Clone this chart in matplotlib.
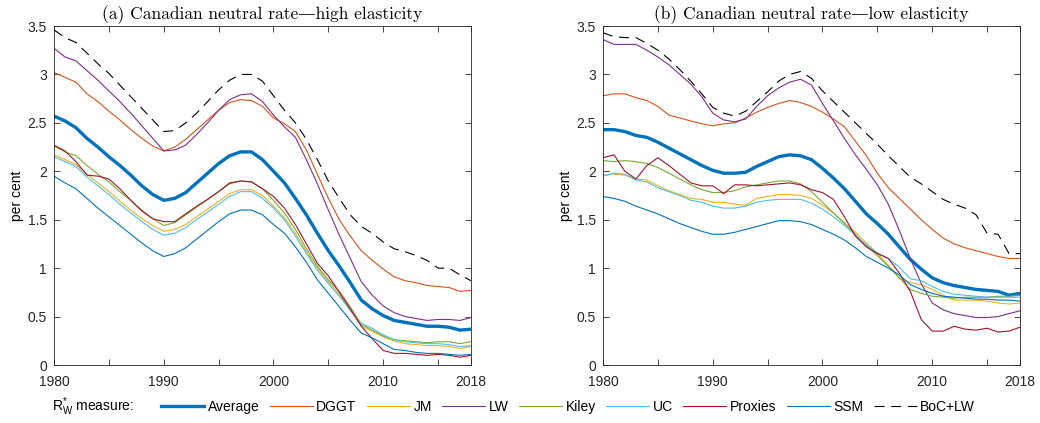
import matplotlib
matplotlib.use("Agg")
import matplotlib.pyplot as plt
import numpy as np

years = np.arange(1980, 2019)

# (a) high elasticity
hi_average = [2.57, 2.52, 2.45, 2.34, 2.25, 2.15, 2.06, 1.96, 1.85, 1.76,
              1.70, 1.72, 1.78, 1.88, 1.98, 2.08, 2.16, 2.20, 2.20, 2.12,
              2.00, 1.88, 1.72, 1.55, 1.36, 1.18, 1.02, 0.85, 0.67, 0.58,
              0.51, 0.46, 0.44, 0.42, 0.40, 0.40, 0.39, 0.36, 0.37]
hi_dggt = [3.02, 2.97, 2.92, 2.80, 2.72, 2.62, 2.53, 2.43, 2.34, 2.26,
           2.21, 2.25, 2.33, 2.43, 2.53, 2.63, 2.71, 2.74, 2.73, 2.67,
           2.55, 2.49, 2.41, 2.22, 1.97, 1.72, 1.50, 1.33, 1.18, 1.08,
           0.99, 0.91, 0.87, 0.85, 0.82, 0.81, 0.80, 0.76, 0.77]
hi_jm = [2.17, 2.12, 2.07, 1.97, 1.88, 1.79, 1.69, 1.60, 1.51, 1.44,
         1.38, 1.40, 1.45, 1.53, 1.61, 1.69, 1.77, 1.81, 1.81, 1.75,
         1.64, 1.52, 1.36, 1.17, 1.00, 0.86, 0.73, 0.57, 0.40, 0.35,
         0.29, 0.25, 0.22, 0.21, 0.20, 0.20, 0.19, 0.17, 0.19]
hi_lw = [3.27, 3.18, 3.14, 3.04, 2.94, 2.83, 2.72, 2.60, 2.47, 2.34,
         2.21, 2.22, 2.27, 2.38, 2.50, 2.63, 2.74, 2.79, 2.80, 2.72,
         2.58, 2.46, 2.35, 2.12, 1.87, 1.60, 1.34, 1.10, 0.86, 0.72,
         0.61, 0.54, 0.50, 0.48, 0.46, 0.47, 0.47, 0.46, 0.49]
hi_kiley = [2.26, 2.20, 2.16, 2.06, 1.97, 1.89, 1.79, 1.70, 1.60, 1.51,
            1.44, 1.47, 1.55, 1.63, 1.71, 1.79, 1.87, 1.90, 1.89, 1.82,
            1.70, 1.57, 1.40, 1.20, 1.02, 0.88, 0.76, 0.60, 0.42, 0.36,
            0.30, 0.26, 0.25, 0.24, 0.23, 0.24, 0.24, 0.22, 0.24]
hi_uc = [2.15, 2.10, 2.05, 1.94, 1.85, 1.76, 1.66, 1.57, 1.48, 1.40,
         1.34, 1.36, 1.42, 1.50, 1.58, 1.66, 1.74, 1.79, 1.79, 1.72,
         1.62, 1.50, 1.33, 1.15, 0.98, 0.84, 0.71, 0.56, 0.43, 0.38,
         0.31, 0.26, 0.24, 0.23, 0.22, 0.22, 0.21, 0.19, 0.20]
hi_proxies = [2.27, 2.21, 2.10, 1.96, 1.95, 1.92, 1.82, 1.70, 1.59, 1.51,
              1.48, 1.48, 1.56, 1.64, 1.71, 1.79, 1.88, 1.90, 1.89, 1.82,
              1.74, 1.62, 1.45, 1.25, 1.05, 0.92, 0.75, 0.58, 0.40, 0.27,
              0.15, 0.12, 0.12, 0.11, 0.10, 0.11, 0.10, 0.08, 0.10]
hi_ssm = [1.95, 1.88, 1.82, 1.72, 1.62, 1.53, 1.44, 1.35, 1.26, 1.18,
          1.12, 1.15, 1.21, 1.30, 1.39, 1.48, 1.56, 1.60, 1.60, 1.55,
          1.45, 1.36, 1.22, 1.06, 0.88, 0.74, 0.60, 0.46, 0.33, 0.28,
          0.22, 0.16, 0.15, 0.13, 0.12, 0.12, 0.11, 0.10, 0.11]
hi_boc_lw = [3.46, 3.38, 3.33, 3.22, 3.11, 3.01, 2.89, 2.77, 2.65, 2.53,
             2.41, 2.42, 2.50, 2.60, 2.72, 2.84, 2.94, 3.00, 3.00, 2.93,
             2.78, 2.63, 2.50, 2.33, 2.12, 1.90, 1.72, 1.55, 1.43, 1.36,
             1.27, 1.20, 1.17, 1.13, 1.08, 1.00, 1.00, 0.93, 0.87]

# (b) low elasticity
lo_average = [2.43, 2.43, 2.41, 2.37, 2.35, 2.30, 2.24, 2.18, 2.12, 2.06,
              2.01, 1.98, 1.98, 1.99, 2.05, 2.10, 2.15, 2.17, 2.16, 2.12,
              2.03, 1.93, 1.82, 1.69, 1.56, 1.46, 1.35, 1.22, 1.09, 0.99,
              0.90, 0.85, 0.82, 0.80, 0.78, 0.77, 0.76, 0.72, 0.74]
lo_dggt = [2.78, 2.80, 2.80, 2.76, 2.73, 2.67, 2.58, 2.55, 2.52, 2.49,
           2.47, 2.49, 2.50, 2.55, 2.61, 2.66, 2.70, 2.73, 2.71, 2.67,
           2.61, 2.54, 2.46, 2.31, 2.16, 1.98, 1.83, 1.72, 1.61, 1.50,
           1.40, 1.31, 1.25, 1.21, 1.18, 1.15, 1.12, 1.10, 1.10]
lo_jm = [1.96, 1.97, 1.96, 1.92, 1.91, 1.85, 1.80, 1.76, 1.72, 1.71,
         1.68, 1.68, 1.66, 1.65, 1.72, 1.74, 1.76, 1.76, 1.75, 1.72,
         1.65, 1.57, 1.47, 1.37, 1.26, 1.15, 1.03, 0.90, 0.85, 0.83,
         0.78, 0.72, 0.67, 0.67, 0.67, 0.66, 0.64, 0.63, 0.64]
lo_lw = [3.36, 3.31, 3.31, 3.31, 3.25, 3.18, 3.10, 3.00, 2.90, 2.77,
         2.60, 2.53, 2.51, 2.54, 2.67, 2.78, 2.86, 2.92, 2.95, 2.89,
         2.70, 2.52, 2.34, 2.17, 2.02, 1.86, 1.66, 1.39, 1.10, 0.84,
         0.64, 0.57, 0.53, 0.51, 0.49, 0.49, 0.50, 0.53, 0.56]
lo_kiley = [2.11, 2.10, 2.11, 2.10, 2.08, 2.04, 1.98, 1.92, 1.86, 1.81,
            1.78, 1.78, 1.80, 1.84, 1.86, 1.88, 1.90, 1.90, 1.87, 1.79,
            1.68, 1.57, 1.46, 1.35, 1.23, 1.13, 1.02, 0.90, 0.78, 0.74,
            0.71, 0.70, 0.69, 0.70, 0.70, 0.70, 0.71, 0.71, 0.72]
lo_uc = [1.95, 1.98, 1.97, 1.91, 1.89, 1.83, 1.79, 1.75, 1.70, 1.68,
         1.64, 1.62, 1.62, 1.64, 1.68, 1.70, 1.71, 1.71, 1.71, 1.67,
         1.61, 1.53, 1.44, 1.34, 1.24, 1.16, 1.10, 1.01, 0.89, 0.87,
         0.81, 0.76, 0.73, 0.72, 0.71, 0.70, 0.70, 0.70, 0.70]
lo_proxies = [2.14, 2.17, 2.00, 1.92, 2.06, 2.14, 2.06, 1.97, 1.88, 1.85,
              1.85, 1.77, 1.86, 1.86, 1.85, 1.86, 1.87, 1.88, 1.86, 1.81,
              1.78, 1.71, 1.53, 1.33, 1.22, 1.15, 1.10, 0.95, 0.76, 0.47,
              0.35, 0.35, 0.40, 0.37, 0.36, 0.38, 0.34, 0.35, 0.39]
lo_ssm = [1.74, 1.72, 1.69, 1.64, 1.60, 1.56, 1.51, 1.46, 1.42, 1.38,
          1.35, 1.35, 1.37, 1.40, 1.43, 1.46, 1.49, 1.49, 1.48, 1.45,
          1.40, 1.35, 1.29, 1.21, 1.12, 1.06, 1.00, 0.93, 0.83, 0.78,
          0.74, 0.71, 0.70, 0.69, 0.68, 0.68, 0.67, 0.67, 0.66]
lo_boc_lw = [3.43, 3.39, 3.38, 3.38, 3.32, 3.25, 3.16, 3.05, 2.93, 2.80,
             2.66, 2.60, 2.57, 2.62, 2.72, 2.82, 2.93, 3.00, 3.03, 2.96,
             2.83, 2.72, 2.61, 2.50, 2.39, 2.28, 2.16, 2.05, 1.94, 1.87,
             1.79, 1.71, 1.66, 1.62, 1.55, 1.36, 1.35, 1.15, 1.15]

labels = ["Average", "DGGT", "JM", "LW", "Kiley", "UC", "Proxies", "SSM", "BoC+LW"]
titles = ["(a) Canadian neutral rate\u2014high elasticity",
          "(b) Canadian neutral rate\u2014low elasticity"]

colors = ["#0072BD", "#D95319", "#EDB120", "#7E2F8E", "#77AC30",
          "#4DBEEE", "#A2142F", "#0072BD", "black"]
widths = [2.4, 0.8, 0.8, 0.8, 0.8, 0.8, 0.8, 0.8, 0.8]

plt.rcParams["font.family"] = ["Liberation Sans", "DejaVu Sans"]
plt.rcParams["mathtext.fontset"] = "custom"
plt.rcParams["mathtext.rm"] = "Liberation Sans"
plt.rcParams["mathtext.it"] = "Liberation Sans"

fig = plt.figure(figsize=(10.4, 4.23), dpi=100)
ax_l = fig.add_axes([54 / 1040, 58 / 423, 417 / 1040, 339 / 423])
ax_r = fig.add_axes([603 / 1040, 58 / 423, 417 / 1040, 339 / 423])

panels = [
    (ax_l, [hi_average, hi_dggt, hi_jm, hi_lw, hi_kiley, hi_uc, hi_proxies, hi_ssm, hi_boc_lw]),
    (ax_r, [lo_average, lo_dggt, lo_jm, lo_lw, lo_kiley, lo_uc, lo_proxies, lo_ssm, lo_boc_lw]),
]

grey = "#262626"
handles = []
for i, (ax, series) in enumerate(panels):
    hs = []
    for vals, lab, c, w in zip(series, labels, colors, widths):
        if lab == "BoC+LW":
            h, = ax.plot(years, vals, color=c, lw=w, dashes=(9, 6), label=lab)
        else:
            h, = ax.plot(years, vals, color=c, lw=w, label=lab)
        hs.append(h)
    if i == 0:
        handles = hs
    ax.set_xlim(1980, 2018)
    ax.set_ylim(0, 3.5)
    xt = [1980, 1985, 1990, 1995, 2000, 2005, 2010, 2015, 2018]
    ax.set_xticks(xt)
    ax.set_xticklabels([str(t) if t in (1980, 1990, 2000, 2010, 2018) else "" for t in xt])
    yt = np.arange(0, 3.51, 0.5)
    ax.set_yticks(yt)
    ax.set_yticklabels(["%g" % t for t in yt])
    ax.tick_params(direction="in", top=True, right=True, length=4.5, width=0.6,
                   labelsize=10, colors=grey)
    ax.tick_params(axis="x", pad=7)
    ax.tick_params(axis="y", pad=5)
    for s in ax.spines.values():
        s.set_color(grey)
        s.set_linewidth(0.6)
    ax.set_ylabel("per cent", fontsize=10, color="black", labelpad=3)
    ax.set_title(titles[i], family=["cmr10", "DejaVu Serif"], fontsize=12.5, pad=5)

fig.text(52 / 1040, 1 - 407 / 423, "R$^{*}_{\\mathrm{W}}$ measure:", fontsize=10,
         va="center", ha="left")
fig.legend(handles, labels, ncol=9, loc="center", bbox_to_anchor=(568 / 1040, 1 - 407 / 423),
           frameon=False, fontsize=10, handlelength=3.1, handletextpad=0.25,
           columnspacing=0.75, borderaxespad=0)

fig.savefig("out.png", dpi=100)
